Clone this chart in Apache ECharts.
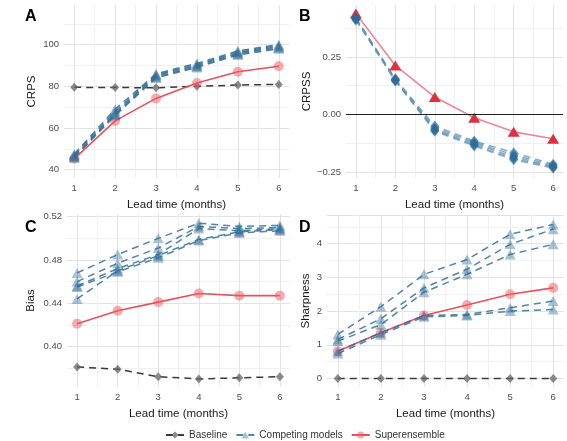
<!DOCTYPE html>
<html>
<head>
<meta charset="utf-8">
<script src="https://cdn.jsdelivr.net/npm/echarts@6/dist/echarts.min.js"></script>
<style>
    html, body { margin: 0; padding: 0; background: #fff; }
    #chart { width: 567px; height: 441px; }
</style>
</head>
<body>
<div id="chart"></div>
<script>
// data
const leadTime = [1, 2, 3, 4, 5, 6];

const crpsBaseline = [79.5, 79.4, 79.3, 80.0, 80.6, 80.9];
const crpsSuper = [45.2, 63.4, 74.2, 81.6, 87.0, 89.6];
const crpsModels = [
    [47.5, 69.0, 86.0, 91.0, 97.0, 100.0],
    [47.0, 68.0, 85.5, 90.5, 96.5, 99.5],
    [46.5, 67.0, 85.0, 90.0, 96.0, 99.0],
    [46.0, 66.5, 84.5, 89.5, 95.5, 98.5],
    [45.8, 66.0, 84.0, 89.0, 95.0, 98.0]
];

const crpssSuper = [0.438, 0.213, 0.076, -0.014, -0.075, -0.105];
const crpssModels = [
    [0.420, 0.155, -0.050, -0.115, -0.165, -0.215],
    [0.418, 0.152, -0.058, -0.120, -0.175, -0.220],
    [0.415, 0.150, -0.064, -0.126, -0.183, -0.225],
    [0.413, 0.148, -0.068, -0.132, -0.190, -0.228],
    [0.410, 0.145, -0.072, -0.136, -0.196, -0.232]
];
const crpssZero = 0;

const biasBaseline = [0.381, 0.379, 0.372, 0.370, 0.371, 0.372];
const biasSuper = [0.421, 0.433, 0.441, 0.449, 0.447, 0.447];
const biasModels = [
    [0.468, 0.485, 0.500, 0.514, 0.511, 0.512],
    [0.460, 0.477, 0.491, 0.511, 0.509, 0.510],
    [0.456, 0.472, 0.485, 0.509, 0.507, 0.509],
    [0.455, 0.469, 0.482, 0.498, 0.505, 0.507],
    [0.444, 0.470, 0.484, 0.499, 0.506, 0.508]
];

const sharpBaseline = [0, 0, 0, 0, 0, 0];
const sharpSuper = [0.81, 1.36, 1.87, 2.18, 2.50, 2.69];
const sharpModels = [
    [1.31, 2.13, 3.09, 3.53, 4.28, 4.57],
    [1.16, 1.77, 2.69, 3.24, 3.98, 4.43],
    [1.11, 1.60, 2.56, 3.09, 3.68, 3.98],
    [0.81, 1.36, 1.87, 1.90, 2.10, 2.30],
    [0.74, 1.30, 1.83, 1.87, 2.00, 2.05]
];

const FONT = 'Liberation Sans, Arial, sans-serif';
const GRID_MAJOR = '#e3e3e3';
const GRID_MINOR = '#f1f1f1';

const pair = arr => arr.map((v, i) => [leadTime[i], v]);
const onStep = (v, s) => Math.abs(v / s - Math.round(v / s)) < 1e-6;

// ggplot style grid: fine interval, only majors/minors get a colour
function gridAxis(min, max, step, major, minor, fmt, opts) {
    const colors = [];
    const n = Math.round((max - min) / step) + 2;
    for (let i = 0; i < n; i++) {
        const v = min + i * step;
        colors.push(onStep(v, major) ? GRID_MAJOR : (onStep(v, minor) ? GRID_MINOR : 'rgba(0,0,0,0)'));
    }
    return Object.assign({
        type: 'value',
        min: min,
        max: max,
        interval: step,
        axisLine: { show: false },
        axisTick: { show: false },
        splitLine: { show: true, lineStyle: { color: colors, width: 1 } },
        axisLabel: {
            color: '#4d4d4d',
            fontSize: 9.5,
            fontFamily: FONT,
            margin: 5,
            hideOverlap: false,
            formatter: v => onStep(v, major) ? fmt(v) : ''
        },
        nameLocation: 'middle',
        nameTextStyle: { color: '#1a1a1a', fontSize: 11.5, fontFamily: FONT }
    }, opts);
}

const xAxes = [0, 1, 2, 3].map(i => gridAxis(0.75, 6.25, 0.25, 1, 0.5, v => String(Math.round(v)), {
    gridIndex: i,
    name: 'Lead time (months)',
    nameGap: 21
}));

const blueLine = 'rgba(52,110,150,0.85)';
const blueMark = 'rgba(52,110,150,0.42)';

function baselineSeries(data, idx) {
    return {
        name: 'Baseline', type: 'line', xAxisIndex: idx, yAxisIndex: idx,
        data: pair(data), symbol: 'diamond', symbolSize: [8, 9],
        lineStyle: { color: '#3a3a3a', width: 1.5, type: [7, 5] },
        itemStyle: { color: 'rgba(100,100,100,0.75)' },
        emphasis: { disabled: true }, z: 2
    };
}

function superSeries(data, idx, tri) {
    return {
        name: 'Superensemble', type: 'line', xAxisIndex: idx, yAxisIndex: idx,
        data: pair(data),
        symbol: tri ? 'triangle' : 'circle',
        symbolSize: tri ? [12, 10] : 10,
        lineStyle: { color: tri ? 'rgba(232,115,128,0.85)' : '#e8505c', width: 1.6 },
        itemStyle: { color: tri ? '#e0303f' : 'rgba(236,90,100,0.5)' },
        emphasis: { disabled: true }, z: 3
    };
}

function modelSeries(models, idx, diamond) {
    return models.map(m => ({
        name: 'Competing models', type: 'line', xAxisIndex: idx, yAxisIndex: idx,
        data: pair(m),
        symbol: diamond ? 'diamond' : 'triangle',
        symbolSize: diamond ? [9, 11] : [11, 10],
        lineStyle: { color: diamond ? 'rgba(95,145,180,0.75)' : blueLine, width: 1.5, type: [7, 5] },
        itemStyle: { color: diamond ? 'rgba(45,108,152,0.65)' : blueMark },
        emphasis: { disabled: true }, z: 4
    }));
}

const yA = gridAxis(36, 119, 1, 20, 10, v => String(Math.round(v)), { gridIndex: 0, name: 'CRPS', nameGap: 26 });
const yB = gridAxis(-0.275, 0.475, 0.025, 0.25, 0.125, v => v.toFixed(2).replace('-', '\u2212'), { gridIndex: 1, name: 'CRPSS', nameGap: 33 });
const yC = gridAxis(0.3625, 0.5225, 0.0025, 0.04, 0.02, v => v.toFixed(2), { gridIndex: 2, name: 'Bias', nameGap: 30 });
const yD = gridAxis(-0.25, 4.85, 0.25, 1, 0.5, v => String(Math.round(v)), { gridIndex: 3, name: 'Sharpness', nameGap: 15 });

const chart = echarts.init(document.getElementById('chart'), null, { renderer: 'canvas' });

const option = {
    backgroundColor: '#ffffff',
    animation: false,
    textStyle: { fontFamily: FONT },
    title: [
        { text: 'A', left: 20, top: 4 },
        { text: 'B', left: 294, top: 4 },
        { text: 'C', left: 20, top: 215 },
        { text: 'D', left: 294, top: 215 }
    ].map(t => Object.assign(t, { textStyle: { fontSize: 16, fontWeight: 'bold', color: '#000', fontFamily: FONT } })),
    legend: {
        left: 160, top: 425,
        itemWidth: 18, itemHeight: 9, itemGap: 8,
        textStyle: { fontSize: 10, color: '#333', fontFamily: FONT },
        data: ['Baseline', 'Competing models', 'Superensemble'],
        selectedMode: false
    },
    grid: [
        { left: 64, top: 5, width: 225, height: 173 },
        { left: 346, top: 5, width: 217, height: 173 },
        { left: 67, top: 214, width: 223, height: 173 },
        { left: 327, top: 215, width: 237, height: 172 }
    ],
    xAxis: xAxes,
    yAxis: [yA, yB, yC, yD],
    series: [
        baselineSeries(crpsBaseline, 0),
        superSeries(crpsSuper, 0, false),
        ...modelSeries(crpsModels, 0, false),

        Object.assign(superSeries(crpssSuper, 1, true), {
            markLine: {
                silent: true, symbol: 'none', label: { show: false },
                lineStyle: { color: '#222', width: 1.2, type: 'solid' },
                data: [{ yAxis: crpssZero }]
            }
        }),
        ...modelSeries(crpssModels, 1, true),

        baselineSeries(biasBaseline, 2),
        superSeries(biasSuper, 2, false),
        ...modelSeries(biasModels, 2, false),

        baselineSeries(sharpBaseline, 3),
        superSeries(sharpSuper, 3, false),
        ...modelSeries(sharpModels, 3, false)
    ]
};

chart.setOption(option);
</script>
</body>
</html>
